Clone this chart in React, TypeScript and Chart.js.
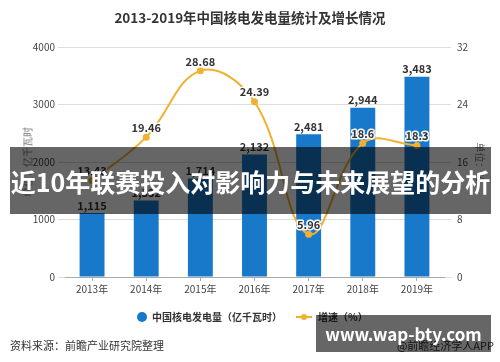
import React, { useEffect, useRef } from "react";
import { Chart, registerables } from "chart.js";

Chart.register(...registerables);

const years = ["2013年", "2014年", "2015年", "2016年", "2017年", "2018年", "2019年"];
const output = [1115, 1332, 1714, 2132, 2481, 2944, 3483];
const growth = [13.43, 19.46, 28.68, 24.39, 5.96, 18.6, 18.3];
const leftMax = 4000;
const leftStep = 1000;
const rightMax = 32;
const rightStep = 8;

const BAR = "#1878C9";
const LINE = "#EFB12F";
const FONT = '"Noto Sans CJK SC", "Noto Sans", sans-serif';

const labelPlugin = {
  id: "valueLabels",
  afterDatasetsDraw(chart: any) {
    const ctx = chart.ctx;
    ctx.save();
    ctx.font = `bold 11px ${FONT}`;
    ctx.textAlign = "center";
    ctx.textBaseline = "bottom";
    const barMeta = chart.getDatasetMeta(0);
    barMeta.data.forEach((el: any, i: number) => {
      ctx.fillStyle = "#333";
      ctx.fillText(output[i].toLocaleString("en-US"), el.x, el.y - 2);
    });
    const lineMeta = chart.getDatasetMeta(1);
    lineMeta.data.forEach((el: any, i: number) => {
      const t = String(growth[i]);
      ctx.lineWidth = 3;
      ctx.lineJoin = "round";
      ctx.strokeStyle = "rgba(255,255,255,0.95)";
      ctx.strokeText(t, el.x, el.y - 4);
      ctx.fillStyle = "#333";
      ctx.fillText(t, el.x, el.y - 4);
    });
    ctx.restore();
  },
};

export default function App() {
  const ref = useRef<HTMLCanvasElement>(null);
  useEffect(() => {
    document.body.style.margin = "0";
    if (!ref.current) return;
    const chart = new Chart(ref.current, {
      data: {
        labels: years,
        datasets: [
          {
            type: "bar",
            label: "中国核电发电量（亿千瓦时）",
            data: output,
            backgroundColor: BAR,
            yAxisID: "y",
            barPercentage: 0.46,
            categoryPercentage: 1,
            order: 2,
          },
          {
            type: "line",
            label: "增速（%）",
            data: growth,
            borderColor: LINE,
            backgroundColor: LINE,
            borderWidth: 2,
            tension: 0.4,
            pointRadius: 3.5,
            pointBorderWidth: 0,
            pointBackgroundColor: LINE,
            yAxisID: "y1",
            order: 1,
          },
        ],
      } as any,
      options: {
        responsive: false,
        animation: false,
        layout: { padding: { top: 47, left: 0, right: 0, bottom: 0 } },
        plugins: {
          legend: { display: false },
          title: { display: false },
          tooltip: { enabled: false },
        },
        scales: {
          x: {
            afterFit: (s: any) => {
              s.height = 85;
            },
            grid: {
              display: true,
              drawOnChartArea: false,
              drawTicks: true,
              tickLength: 4,
              offset: false,
              color: "#aaa",
            },
            border: { display: true, color: "#aaa" },
            ticks: { color: "#444", font: { size: 10, family: FONT }, padding: 2 },
          },
          y: {
            position: "left",
            min: 0,
            max: leftMax,
            afterFit: (s: any) => {
              s.width = 65;
            },
            ticks: {
              stepSize: leftStep,
              color: "#444",
              padding: 3,
              font: { size: 10, family: FONT },
              callback: (v: any) => String(v),
            },
            grid: { color: "#ddd", tickLength: 7 },
            border: { display: false },
          },
          y1: {
            position: "right",
            min: 0,
            max: rightMax,
            afterFit: (s: any) => {
              s.width = 56;
            },
            ticks: {
              stepSize: rightStep,
              color: "#444",
              padding: 6,
              font: { size: 10, family: FONT },
              callback: (v: any) => String(v),
            },
            grid: { color: "#ddd", tickLength: 7, drawOnChartArea: false },
            border: { display: false },
          },
        },
      } as any,
      plugins: [labelPlugin],
    });
    return () => chart.destroy();
  }, []);

  const abs = (s: any) => ({ position: "absolute", whiteSpace: "nowrap", fontFamily: FONT, ...s });

  return (
    <div style={{ position: "relative", width: 500, height: 362, overflow: "hidden", background: "#fff" }}>
      <canvas ref={ref} width={500} height={362} style={{ display: "block" }} />
      <div style={abs({ left: 0, width: 500, top: 8, textAlign: "center", fontSize: 13.5, fontWeight: "bold", color: "#333", lineHeight: "18px" })}>
        2013-2019年中国核电发电量统计及增长情况
      </div>
      <div style={abs({ left: 27, top: 162, transform: "translate(-50%,-50%) rotate(-90deg)", fontSize: 10, color: "#777" })}>
        单位：亿千瓦时
      </div>
      <div style={abs({ left: 480, top: 162, transform: "translate(-50%,-50%) rotate(90deg)", fontSize: 10, color: "#777" })}>
        单位：%
      </div>
      <div style={abs({ left: 137, top: 312, width: 10, height: 10, borderRadius: 5, background: BAR })} />
      <div style={abs({ left: 152, top: 310, fontSize: 10, color: "#333", fontWeight: "bold", lineHeight: "14px" })}>
        中国核电发电量（亿千瓦时）
      </div>
      <div style={abs({ left: 296, top: 316, width: 16, height: 2, background: LINE })} />
      <div style={abs({ left: 301, top: 314, width: 6, height: 6, borderRadius: 3, background: LINE })} />
      <div style={abs({ left: 318, top: 310, fontSize: 10, color: "#333", fontWeight: "bold", lineHeight: "14px" })}>
        增速（%）
      </div>
      <div style={abs({ left: 10, top: 337, fontSize: 11, color: "#333", lineHeight: "16px" })}>
        资料来源：前瞻产业研究院整理
      </div>
      <div style={abs({ right: 6, top: 337, fontSize: 11, color: "#333", lineHeight: "16px" })}>
        @前瞻经济学人APP
      </div>
      <div
        style={abs({
          left: 10,
          top: 147,
          width: 481,
          height: 67,
          background: "rgba(0,0,0,0.6)",
          color: "#fff",
          fontSize: 25,
          fontWeight: "bold",
          display: "flex",
          alignItems: "center",
          justifyContent: "center",
          overflow: "hidden",
        })}
      >
        近10年联赛投入对影响力与未来展望的分析
      </div>
      <div
        style={abs({
          left: 316,
          top: 315,
          width: 175,
          height: 37,
          background: "rgba(0,0,0,0.6)",
          color: "#fff",
          fontSize: 17,
          fontWeight: "bold",
          display: "flex",
          alignItems: "center",
          justifyContent: "center",
          overflow: "hidden",
        })}
      >
        www.wap-bty.com
      </div>
    </div>
  );
}
